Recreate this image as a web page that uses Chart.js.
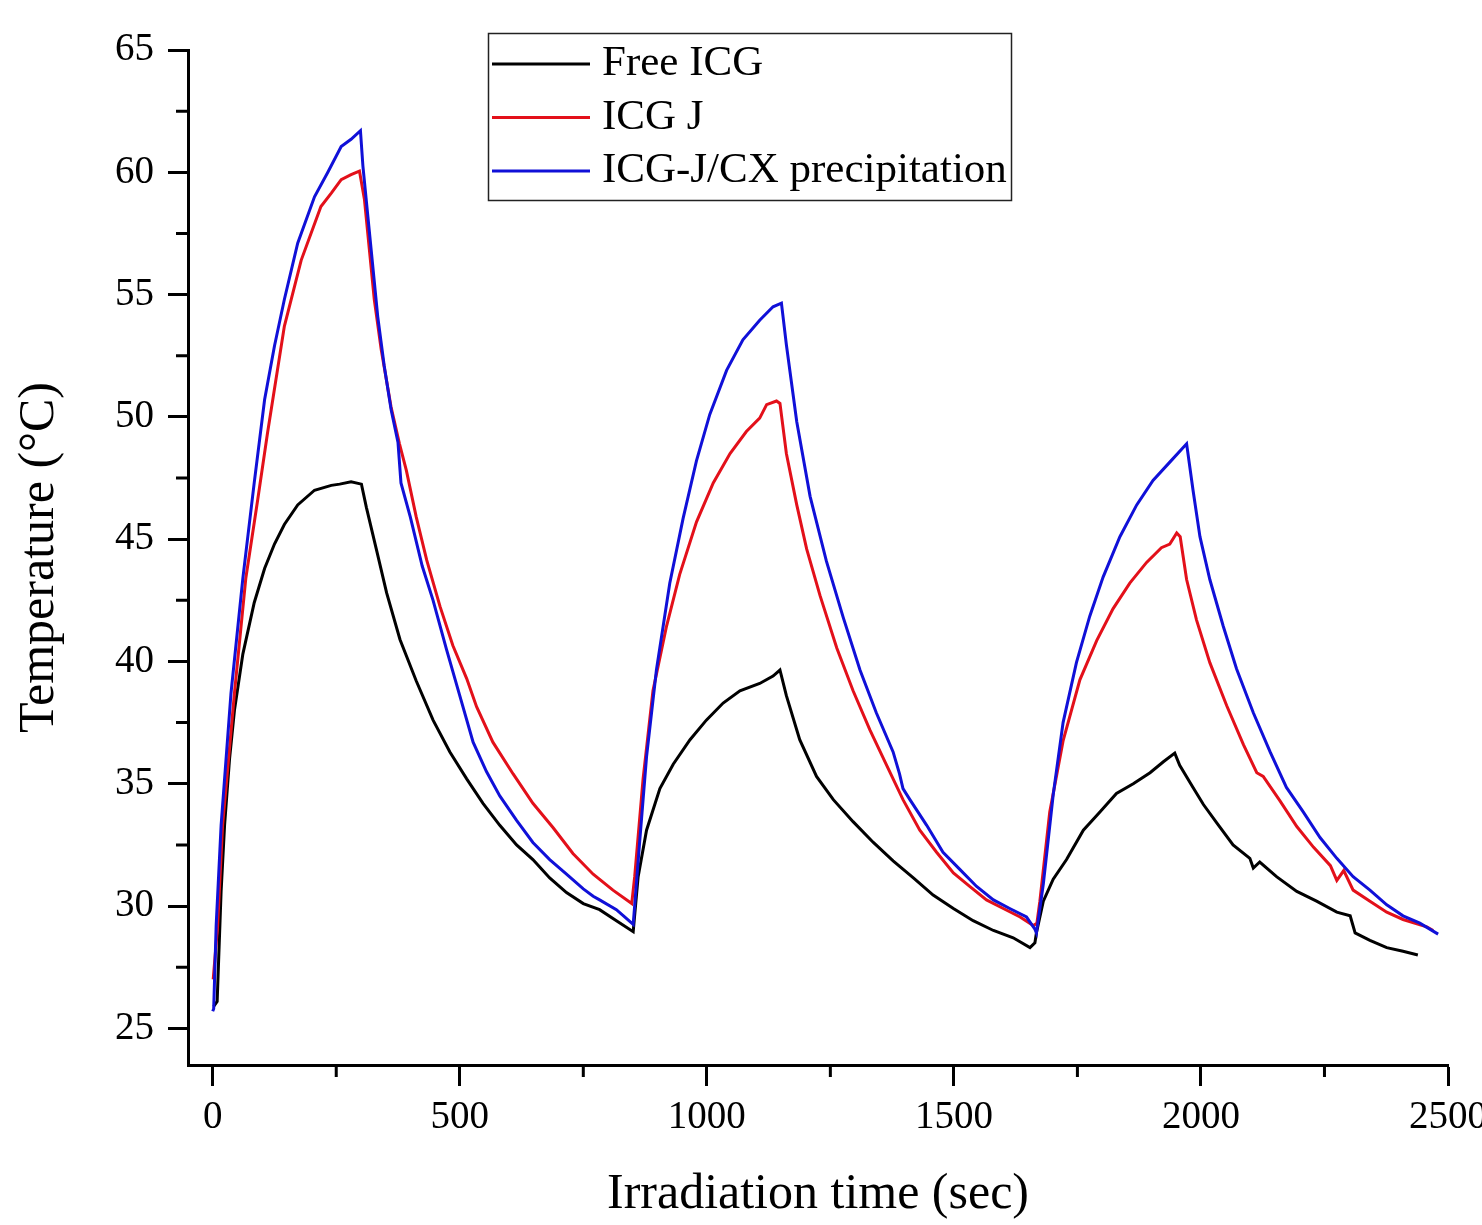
<!DOCTYPE html>
<html>
<head>
<meta charset="utf-8">
<script src="https://cdn.jsdelivr.net/npm/chart.js@4.4.0/dist/chart.umd.min.js"></script>
<style>
  html, body { margin: 0; padding: 0; background: #fff; overflow: hidden; }
  #wrap { width: 1482px; height: 1225px; overflow: hidden; }
  canvas { display: block; }
</style>
</head>
<body>
<div id="wrap"><canvas id="chart" width="1530" height="1225"></canvas></div>
<script>
/* ---------- data ---------- */

const seriesLabels = ['Free ICG', 'ICG J', 'ICG-J/CX precipitation'];

// Free ICG
const freeTime = [2, 9, 12, 17, 24, 34, 44, 61, 84, 105, 125, 145, 172, 206, 240, 257, 280, 301, 311, 331, 352, 379, 412, 446, 480, 514, 547, 581, 615, 648, 682, 716, 750, 783, 817, 851,
  861, 878, 905, 932, 966, 999, 1033, 1067, 1107, 1134, 1148, 1161, 1188, 1222, 1256, 1296, 1337, 1377, 1418, 1458, 1499, 1539, 1580, 1620, 1654, 1664,
  1667, 1681, 1701, 1728, 1762, 1796, 1829, 1863, 1897, 1924, 1947, 1957, 1984, 2005, 2032, 2065, 2099, 2106, 2119, 2153, 2194, 2234, 2275, 2302, 2312, 2342, 2376, 2409, 2439];
const freeTemp = [25.9, 26.1, 27.8, 30.6, 33.3, 36.0, 38.0, 40.3, 42.4, 43.8, 44.8, 45.6, 46.4, 47.0, 47.2, 47.25, 47.35, 47.25, 46.3, 44.6, 42.8, 40.9, 39.2, 37.6, 36.3, 35.2, 34.2, 33.3, 32.5, 31.9, 31.15, 30.55, 30.1, 29.85, 29.4, 28.95,
  31.2, 33.1, 34.8, 35.8, 36.8, 37.6, 38.3, 38.8, 39.1, 39.4, 39.65, 38.6, 36.8, 35.3, 34.35, 33.45, 32.6, 31.85, 31.15, 30.45, 29.9, 29.4, 29.0, 28.7, 28.3, 28.5,
  28.9, 30.2, 31.1, 31.9, 33.1, 33.85, 34.6, 35.0, 35.45, 35.9, 36.25, 35.75, 34.85, 34.15, 33.4, 32.5, 31.95, 31.55, 31.8, 31.2, 30.6, 30.2, 29.75, 29.6, 28.9, 28.6, 28.3, 28.15, 28.0];

// ICG J
const jTime = [1, 10, 20, 44, 67, 91, 111, 145, 179, 219, 240, 260, 280, 297, 307, 317, 327, 341, 361, 378, 392, 412, 433, 460, 486, 514, 534, 567, 608, 648, 689, 729, 770, 810, 848,
  854, 871, 891, 918, 945, 979, 1013, 1047, 1080, 1107, 1121, 1141, 1148, 1161, 1182, 1202, 1229, 1263, 1296, 1330, 1364, 1397, 1431, 1465, 1499, 1532, 1566, 1600, 1634, 1661,
  1668, 1674, 1694, 1721, 1755, 1789, 1822, 1856, 1890, 1920, 1937, 1951, 1958, 1971, 1991, 2018, 2052, 2086, 2113, 2126, 2160, 2194, 2228, 2262, 2275, 2289, 2308, 2342, 2376, 2409, 2457, 2470];
const jTemp = [27.0, 29.2, 33.3, 38.7, 43.4, 46.6, 49.35, 53.7, 56.4, 58.6, 59.15, 59.7, 59.9, 60.05, 58.9, 56.85, 54.8, 52.75, 50.4, 48.9, 47.8, 45.9, 44.15, 42.25, 40.65, 39.3, 38.15, 36.7, 35.4, 34.2, 33.2, 32.15, 31.3, 30.65, 30.1,
  31.2, 35.2, 38.8, 41.4, 43.55, 45.7, 47.3, 48.5, 49.4, 49.95, 50.5, 50.65, 50.55, 48.5, 46.4, 44.6, 42.7, 40.55, 38.8, 37.2, 35.75, 34.35, 33.1, 32.2, 31.35, 30.8, 30.25, 29.9, 29.55, 29.2,
  29.3, 30.2, 33.85, 36.75, 39.25, 40.85, 42.15, 43.2, 44.05, 44.65, 44.8, 45.25, 45.1, 43.35, 41.7, 39.95, 38.2, 36.6, 35.45, 35.3, 34.3, 33.25, 32.4, 31.65, 31.05, 31.45, 30.65, 30.2, 29.75, 29.45, 29.15, 29.0];

// ICG-J/CX precipitation
const cxTime = [0, 2, 7, 17, 37, 61, 84, 105, 125, 145, 172, 206, 233, 260, 280, 299, 304, 314, 324, 334, 347, 361, 375, 381, 400, 424, 446, 473, 500, 527, 554, 581, 615, 648, 682, 716, 750, 770, 783, 817, 851,
  864, 878, 898, 925, 952, 979, 1006, 1040, 1073, 1107, 1134, 1151, 1161, 1182, 1209, 1242, 1276, 1310, 1343, 1377, 1390, 1397, 1411, 1445, 1478, 1512, 1546, 1580, 1613, 1647, 1664,
  1667, 1681, 1701, 1721, 1748, 1775, 1802, 1836, 1870, 1903, 1937, 1971, 1984, 1998, 2018, 2045, 2072, 2106, 2140, 2173, 2207, 2241, 2275, 2308, 2342, 2376, 2409, 2443, 2480];
const cxTemp = [25.7, 25.8, 29.2, 33.3, 38.7, 43.4, 47.3, 50.7, 52.9, 54.8, 57.1, 59.0, 60.0, 61.05, 61.35, 61.7, 60.25, 58.2, 56.15, 54.1, 52.1, 50.3, 48.95, 47.3, 45.9, 43.9, 42.5, 40.5, 38.6, 36.7, 35.5, 34.5, 33.5, 32.6, 31.9, 31.3, 30.7, 30.4, 30.25, 29.85, 29.25,
  32.6, 36.1, 39.65, 43.2, 45.85, 48.2, 50.1, 51.9, 53.15, 53.95, 54.5, 54.65, 52.95, 49.8, 46.75, 44.1, 41.8, 39.65, 37.9, 36.3, 35.4, 34.8, 34.35, 33.3, 32.2, 31.5, 30.8, 30.25, 29.9, 29.55, 29.05,
  28.9, 30.9, 34.55, 37.5, 39.95, 41.85, 43.45, 45.1, 46.4, 47.4, 48.15, 48.9, 47.0, 45.1, 43.35, 41.45, 39.7, 37.9, 36.3, 34.85, 33.85, 32.8, 31.95, 31.2, 30.65, 30.05, 29.6, 29.3, 28.85];

const xTicks = [0, 250, 500, 750, 1000, 1250, 1500, 1750, 2000, 2250, 2500];
const yTicks = [25, 27.5, 30, 32.5, 35, 37.5, 40, 42.5, 45, 47.5, 50, 52.5, 55, 57.5, 60, 62.5, 65];

const FONT = "'Liberation Serif', 'Times New Roman', serif";

function toPoints(times, temps) {
    return times.map((t, i) => ({ x: t, y: temps[i] }));
}

// short minor ticks (Chart.js only draws one tick length)
const minorTicks = {
    id: 'minorTicks',
    afterDraw(chart) {
        const { ctx, scales: { x, y } } = chart;
        ctx.save();
        ctx.strokeStyle = '#000';
        ctx.lineWidth = 3;
        ctx.beginPath();
        xTicks.filter(v => v % 500 !== 0).forEach(v => {
            const px = x.getPixelForValue(v);
            ctx.moveTo(px, x.top);
            ctx.lineTo(px, x.top + 12);
        });
        yTicks.filter(v => v % 5 !== 0).forEach(v => {
            const py = y.getPixelForValue(v);
            ctx.moveTo(y.right, py);
            ctx.lineTo(y.right - 12, py);
        });
        ctx.stroke();
        ctx.restore();
    }
};

// boxed legend inside the plot
const boxLegend = {
    id: 'boxLegend',
    afterDraw(chart) {
        const ctx = chart.ctx;
        ctx.save();
        ctx.fillStyle = '#fff';
        ctx.fillRect(488, 33, 523, 167);
        ctx.strokeStyle = '#222';
        ctx.lineWidth = 1.5;
        ctx.strokeRect(488.5, 33.5, 523, 167);
        ctx.font = '43px ' + FONT;
        ctx.textBaseline = 'middle';
        ctx.textAlign = 'left';
        chart.data.datasets.forEach((ds, i) => {
            const ly = 64 + i * 53.5;
            ctx.strokeStyle = ds.borderColor;
            ctx.lineWidth = 3;
            ctx.beginPath();
            ctx.moveTo(492, ly);
            ctx.lineTo(590, ly);
            ctx.stroke();
            ctx.fillStyle = '#000';
            ctx.fillText(ds.label, 602, ly);
        });
        ctx.restore();
    }
};

const ctx = document.getElementById('chart').getContext('2d');
new Chart(ctx, {
    type: 'line',
    data: {
        datasets: [
            { label: seriesLabels[0], data: toPoints(freeTime, freeTemp), borderColor: '#000000', order: 2 },
            { label: seriesLabels[1], data: toPoints(jTime, jTemp), borderColor: '#e3101a', order: 1 },
            { label: seriesLabels[2], data: toPoints(cxTime, cxTemp), borderColor: '#1010d8', order: 0 }
        ]
    },
    options: {
        responsive: false,
        animation: false,
        devicePixelRatio: 1,
        layout: { padding: { left: 0, top: 50, right: 82, bottom: 0 } },
        plugins: { legend: { display: false }, tooltip: { enabled: false } },
        elements: {
            point: { radius: 0 },
            line: { tension: 0, borderWidth: 3, fill: false }
        },
        scales: {
            x: {
                type: 'linear',
                min: -50,
                max: 2500,
                afterFit: s => { s.height = 160; },
                afterBuildTicks: s => { s.ticks = xTicks.map(v => ({ value: v })); },
                border: { display: true, width: 3, color: '#000' },
                grid: {
                    drawOnChartArea: false,
                    drawTicks: true,
                    tickLength: 21,
                    tickWidth: 3,
                    tickColor: c => (c.tick && c.tick.value % 500 === 0) ? '#000' : 'rgba(0,0,0,0)'
                },
                ticks: {
                    autoSkip: false,
                    maxRotation: 0,
                    padding: 8,
                    color: '#000',
                    font: { family: FONT, size: 39 },
                    callback: v => (v % 500 === 0 ? String(v) : '')
                },
                title: {
                    display: true,
                    text: 'Irradiation time (sec)',
                    color: '#000',
                    font: { family: FONT, size: 50 },
                    padding: { top: 0, bottom: 0 }
                }
            },
            y: {
                type: 'linear',
                min: 23.5,
                max: 65,
                afterFit: s => { s.width = 188; },
                afterBuildTicks: s => { s.ticks = yTicks.map(v => ({ value: v })); },
                border: { display: true, width: 3, color: '#000' },
                grid: {
                    drawOnChartArea: false,
                    drawTicks: true,
                    tickLength: 20,
                    tickWidth: 3,
                    tickColor: c => (c.tick && c.tick.value % 5 === 0) ? '#000' : 'rgba(0,0,0,0)'
                },
                ticks: {
                    autoSkip: false,
                    padding: 14,
                    color: '#000',
                    font: { family: FONT, size: 39 },
                    callback: v => (v % 5 === 0 ? String(v) : '')
                },
                title: {
                    display: true,
                    text: 'Temperature (°C)',
                    color: '#000',
                    font: { family: FONT, size: 50 },
                    padding: { top: 10, bottom: 0 }
                }
            }
        }
    },
    plugins: [minorTicks, boxLegend]
});
</script>
</body>
</html>
